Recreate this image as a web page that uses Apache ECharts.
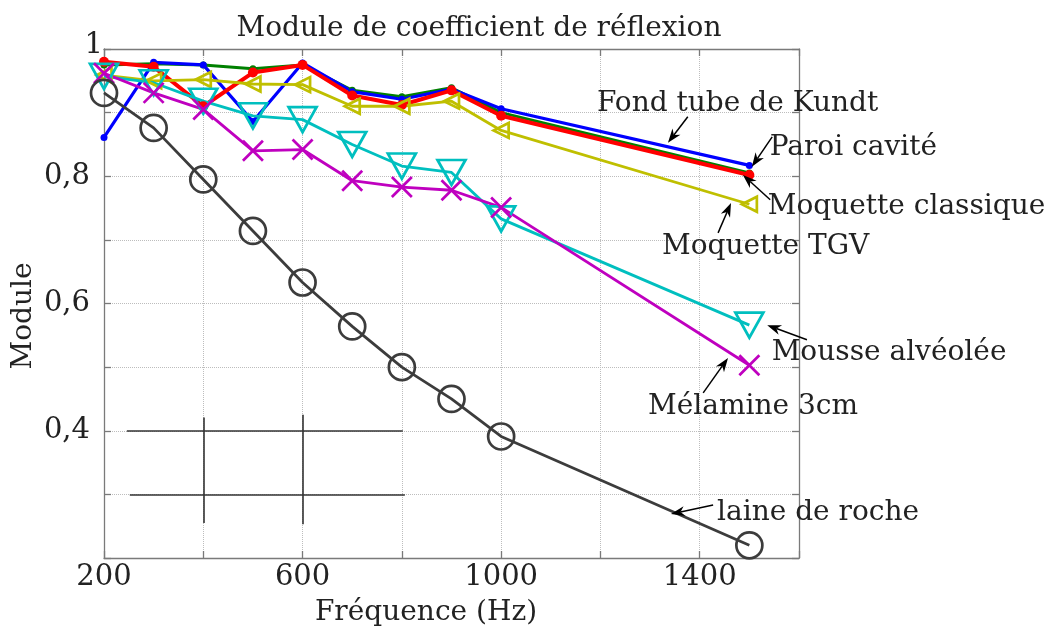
<!DOCTYPE html>
<html>
<head>
<meta charset="utf-8">
<script src="https://cdn.jsdelivr.net/npm/echarts@6/dist/echarts.min.js"></script>
<style>
  html, body { margin: 0; padding: 0; background: #ffffff; }
  #chart { width: 1045px; height: 635px; }
</style>
</head>
<body>
<div id="chart"></div>
<script>
// Frequencies (Hz) at which the reflection coefficient was measured
const frequencies = [200, 300, 400, 500, 600, 700, 800, 900, 1000, 1500];

// Modulus of the reflection coefficient for each material
const fondTubeKundt     = [0.975, 0.977, 0.975, 0.969, 0.975, 0.935, 0.925, 0.939, 0.900, 0.805];
const paroiCavite       = [0.861, 0.979, 0.975, 0.886, 0.978, 0.933, 0.921, 0.937, 0.906, 0.817];
const moquetteClassique = [0.980, 0.972, 0.910, 0.963, 0.975, 0.927, 0.912, 0.935, 0.895, 0.802];
const moquetteTGV       = [0.959, 0.950, 0.952, 0.945, 0.944, 0.910, 0.910, 0.918, 0.872, 0.756];
const mousseAlveolee    = [0.957, 0.947, 0.918, 0.895, 0.889, 0.850, 0.816, 0.806, 0.733, 0.566];
const melamine3cm       = [0.962, 0.931, 0.905, 0.840, 0.842, 0.793, 0.783, 0.778, 0.751, 0.503];
const laineDeRoche      = [0.931, 0.876, 0.795, 0.714, 0.633, 0.564, 0.500, 0.450, 0.391, 0.220];

// Axis ranges and labelled ticks
const xRange = [200, 1600];
const xStep = 200;
const xLabels = [200, 600, 1000, 1400];
const yRange = [0.2, 1.0];
const yStep = 0.1;
const yLabels = { 4: '0,4', 6: '0,6', 8: '0,8' };
const yTopLabel = '1';   // drawn tucked against the top-left corner

// Callout texts and where they sit: [frequency, module] of the left edge / vertical middle
const calloutNames = ['Fond tube de Kundt', 'Paroi cavité', 'Moquette classique', 'Moquette TGV',
                      'Mousse alvéolée', 'Mélamine 3cm', 'laine de roche'];
const calloutAnchors = [[1193, 0.914], [1541, 0.845], [1537, 0.752], [1324, 0.689],
                        [1545, 0.522], [1296, 0.4375], [1435, 0.271]];
// Callout arrows: tail point then tip point, in data units
const calloutArrows = [
  [[1376, 0.8935], [1336, 0.8526]],
  [[1546, 0.862], [1505, 0.815]],
  [[1542, 0.763], [1487, 0.802]],
  [[1437, 0.711], [1463, 0.758]],
  [[1616, 0.543], [1536, 0.566]],
  [[1407, 0.4595], [1457, 0.5145]],
  [[1427, 0.2834], [1342, 0.2692]]
];

// Crosshair-like reference segments in the lower left
const refSegments = [
  [[246, 0.400], [802, 0.400]],
  [[252, 0.300], [806, 0.300]],
  [[400, 0.421], [400, 0.255]],
  [[600, 0.425], [600, 0.253]]
];

const FONT = 'DejaVu Serif';
const TEXT = '#222222';
const AXIS = '#7a7a7a';

function pairs(values) {
  return frequencies.map((f, i) => [f, values[i]]);
}

const crossPath = 'path://M0,0L10,10M0,10L10,0';

const curves = [
  { name: 'fond', values: fondTubeKundt, color: '#008000', width: 3, symbol: 'circle', size: 7, filled: true },
  { name: 'paroi', values: paroiCavite, color: '#0000ff', width: 3.2, symbol: 'circle', size: 7, filled: true },
  { name: 'classique', values: moquetteClassique, color: '#ff0000', width: 4, symbol: 'circle', size: 10, filled: true },
  { name: 'tgv', values: moquetteTGV, color: '#bfbf00', width: 2.8, symbol: 'triangle', size: 15, rotate: 90 },
  { name: 'mousse', values: mousseAlveolee, color: '#00bfbf', width: 2.8, symbol: 'triangle', size: [28, 25], rotate: 180 },
  { name: 'melamine', values: melamine3cm, color: '#bf00bf', width: 2.8, symbol: crossPath, size: 20 },
  { name: 'laine', values: laineDeRoche, color: '#3c3c3c', width: 2.8, symbol: 'circle', size: 26 }
];

const curveSeries = curves.map(c => ({
  type: 'line',
  name: c.name,
  data: pairs(c.values),
  symbol: c.symbol,
  symbolSize: c.size,
  symbolRotate: c.rotate || 0,
  showAllSymbol: true,
  lineStyle: { color: c.color, width: c.width },
  itemStyle: c.filled
    ? { color: c.color, borderColor: c.color, borderWidth: 0 }
    : { color: 'rgba(0,0,0,0)', borderColor: c.color, borderWidth: 2.7 },
  emphasis: { disabled: true },
  animation: false,
  clip: false,
  z: 3
}));

function textStyle(text, size, align) {
  return {
    text: text, fill: TEXT, font: size + 'px "' + FONT + '"',
    align: align, verticalAlign: 'middle', textAlign: align, textVerticalAlign: 'middle'
  };
}

const baseGraphics = [
  { type: 'text', x: 479, y: 29, style: textStyle('Module de coefficient de réflexion', 28, 'center') },
  { type: 'text', x: 426, y: 613, style: textStyle('Fréquence (Hz)', 28, 'center') },
  { type: 'text', x: 24, y: 316, rotation: Math.PI / 2, style: textStyle('Module', 28, 'center') }
];

const axisCommon = {
  axisLine: { show: true, lineStyle: { color: AXIS, width: 1.3 } },
  axisTick: { show: true, inside: true, length: 7, lineStyle: { color: AXIS, width: 1.3 } }
};

const option = {
  backgroundColor: '#ffffff',
  animation: false,
  grid: { left: 104, right: 246, top: 49, bottom: 77, containLabel: false },
  xAxis: [
    Object.assign({
      type: 'value', min: xRange[0], max: xRange[1], interval: xStep, position: 'bottom',
      axisLabel: {
        fontFamily: FONT, fontSize: 29, color: TEXT, margin: 5,
        formatter: v => (xLabels.indexOf(v) >= 0 ? String(v) : '')
      },
      splitLine: { show: true, lineStyle: { type: 'dotted', color: '#bdbdbd', width: 1 } }
    }, axisCommon),
    Object.assign({
      type: 'value', min: xRange[0], max: xRange[1], interval: xStep, position: 'top',
      axisLabel: { show: false }, splitLine: { show: false }
    }, axisCommon)
  ],
  yAxis: [
    Object.assign({
      type: 'value', min: yRange[0], max: yRange[1], interval: yStep, position: 'left',
      axisLabel: {
        fontFamily: FONT, fontSize: 29, color: TEXT, margin: 14,
        formatter: v => yLabels[Math.round(v * 10)] || ''
      },
      splitLine: { show: true, lineStyle: { type: 'dotted', color: '#bdbdbd', width: 1 } }
    }, axisCommon),
    Object.assign({
      type: 'value', min: yRange[0], max: yRange[1], interval: yStep, position: 'right',
      axisLabel: { show: false }, splitLine: { show: false }
    }, axisCommon)
  ],
  graphic: baseGraphics,
  series: [
    {
      type: 'lines', coordinateSystem: 'cartesian2d', polyline: false,
      data: refSegments.map(s => ({ coords: s })),
      symbol: ['none', 'none'],
      lineStyle: { color: '#333333', width: 1.6, opacity: 1 },
      silent: true, animation: false, z: 2
    },
    ...curveSeries
  ]
};

const chart = echarts.init(document.getElementById('chart'), null, { renderer: 'canvas' });
chart.setOption(option);

// Callout arrows and texts, placed through the grid's own coordinate conversion
const toPx = p => chart.convertToPixel({ gridIndex: 0 }, p);
const extraGraphics = [];

// Top y label, tucked up against the corner of the frame
const topCorner = toPx([xRange[0], yRange[1]]);
extraGraphics.push({
  type: 'text', x: topCorner[0] - 1, y: topCorner[1] - 4, silent: true,
  style: textStyle(yTopLabel, 29, 'right')
});

calloutArrows.forEach(a => {
  const tail = toPx(a[0]);
  const tip = toPx(a[1]);
  const dx = tip[0] - tail[0], dy = tip[1] - tail[1];
  const len = Math.hypot(dx, dy);
  const ux = dx / len, uy = dy / len;
  const nx = -uy, ny = ux;
  const headLen = 14, headHalf = 5;
  const back = [tip[0] - ux * headLen, tip[1] - uy * headLen];
  const notch = [tip[0] - ux * headLen * 0.7, tip[1] - uy * headLen * 0.7];
  extraGraphics.push({
    type: 'line', z: 10, silent: true,
    shape: { x1: tail[0], y1: tail[1], x2: notch[0], y2: notch[1] },
    style: { stroke: '#000000', lineWidth: 1.5 }
  });
  extraGraphics.push({
    type: 'polygon', z: 10, silent: true,
    shape: { points: [tip, [back[0] + nx * headHalf, back[1] + ny * headHalf], notch,
                      [back[0] - nx * headHalf, back[1] - ny * headHalf]] },
    style: { fill: '#000000' }
  });
});
calloutNames.forEach((name, i) => {
  const p = toPx(calloutAnchors[i]);
  extraGraphics.push({ type: 'text', x: p[0], y: p[1], z: 10, silent: true, style: textStyle(name, 28, 'left') });
});

chart.setOption({ graphic: baseGraphics.concat(extraGraphics) });
</script>
</body>
</html>
